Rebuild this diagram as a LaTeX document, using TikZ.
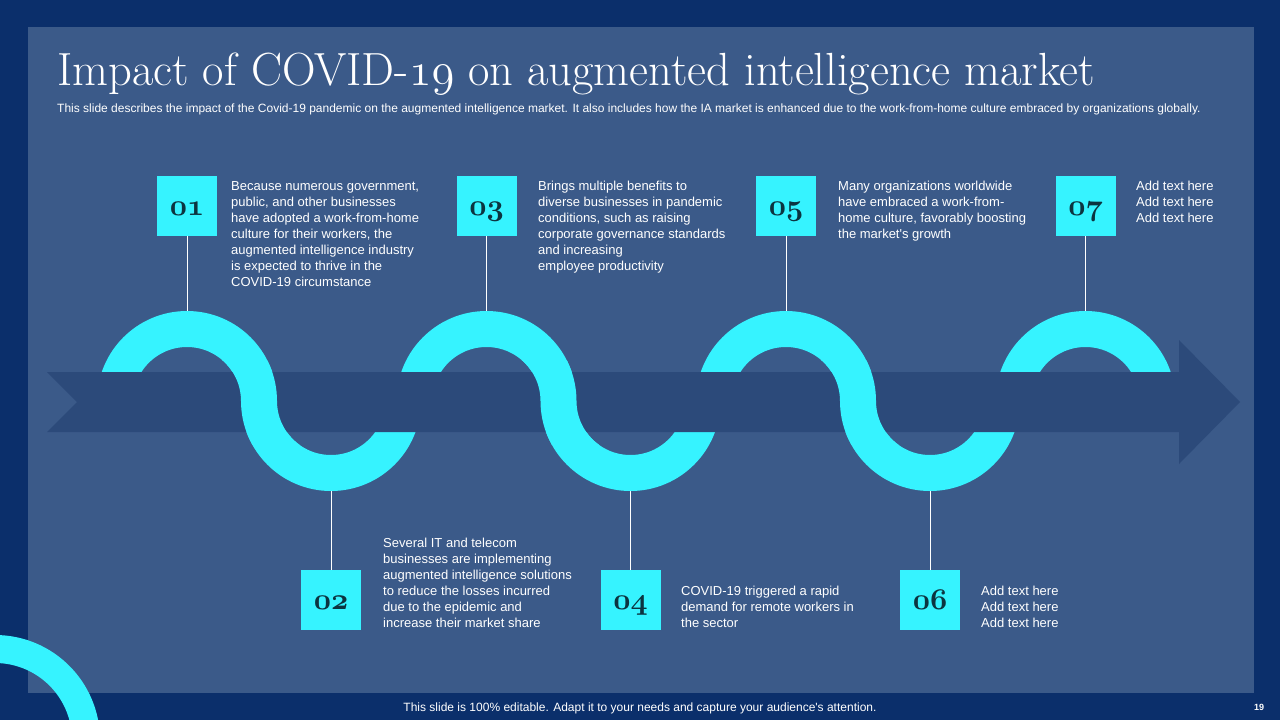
\documentclass[tikz,border=0pt]{standalone}
\usepackage{fix-cm}
\usepackage{fontspec}
\newfontfamily\arial{Liberation Sans}
\newcommand\osnum[1]{{\usefont{OML}{cmm}{m}{it}#1}}
\newcommand\osnumb[1]{{\usefont{OML}{cmm}{b}{it}#1}}
\definecolor{outerbg}{HTML}{0B2F6B}
\definecolor{panel}{HTML}{3B5A89}
\definecolor{bandcol}{HTML}{2C4A7A}
\definecolor{wavecol}{HTML}{36F3FF}
\definecolor{numtxt}{HTML}{0C3440}
\begin{document}
\begin{tikzpicture}[x=1pt,y=-1pt,
  wavestroke/.style={draw=wavecol,line width=36pt},
  numbox/.style={fill=wavecol,minimum size=60pt,inner sep=0pt,text height=20pt,text depth=2pt,text=numtxt,font=\fontsize{30}{30}\selectfont},
  body/.style={anchor=base west,align=left,inner sep=0pt,text=white,font=\arial\fontsize{13}{16}\selectfont},
  conn/.style={draw=white,line width=1pt}]
\useasboundingbox (0,0) rectangle (1280,720);
\fill[outerbg] (0,0) rectangle (1280,720);
\fill[panel] (28,27) rectangle (1254,693);
\begin{scope}
  \clip (0,0) rectangle (1280,720);
  \draw[draw=wavecol,line width=28pt] (-5,740) circle[radius=91];
\end{scope}

% title and subtitle
\node[anchor=base west,inner sep=0pt,text=white,font=\fontsize{46.5}{47}\selectfont] (title) at (57,85)
  {Impact of COVID-\osnum{19} on augmented intelligence market};
\node[anchor=base west,inner sep=0pt,text=white,font=\arial\fontsize{12}{14}\selectfont] (sub) at (57,112)
  {This slide describes the impact of the Covid-19 pandemic on the augmented intelligence market. It also includes how the IA market is enhanced due to the work-from-home culture embraced by organizations globally.};

% number boxes
\node[numbox] (n1) at (187,206) {\osnumb{01}};
\node[numbox] (n3) at (486.5,206) {\osnumb{03}};
\node[numbox] (n5) at (786,206) {\osnumb{05}};
\node[numbox] (n7) at (1085.5,206) {\osnumb{07}};
\node[numbox] (n2) at (331,600) {\osnumb{02}};
\node[numbox] (n4) at (630.5,600) {\osnumb{04}};
\node[numbox] (n6) at (930,600) {\osnumb{06}};

\coordinate (t1) at (187,311);
\coordinate (t3) at (486.5,311);
\coordinate (t5) at (786,311);
\coordinate (t7) at (1085.5,311);
\coordinate (t2) at (331,491);
\coordinate (t4) at (630.5,491);
\coordinate (t6) at (930,491);
\draw[conn] (n1) -- (t1);
\draw[conn] (n3) -- (t3);
\draw[conn] (n5) -- (t5);
\draw[conn] (n7) -- (t7);
\draw[conn] (n2) -- (t2);
\draw[conn] (n4) -- (t4);
\draw[conn] (n6) -- (t6);

% wave
\foreach \c in {187,486.5,786} {
  \draw[wavestroke] (\c-72,401) arc[start angle=180,end angle=360,radius=72]
                                arc[start angle=180,end angle=0,radius=72];
}
\draw[wavestroke] (1085.5-72,401) arc[start angle=180,end angle=360,radius=72];

% arrow band
\fill[bandcol] (47,372) -- (1179,372) -- (1179,340) -- (1240,402) -- (1179,464)
  -- (1179,432) -- (47,432) -- (77,402) -- cycle;

% wave crossing over band
\foreach \c in {187,486.5,786} {
  \begin{scope}
    \clip (\c+30,360) rectangle (\c+114,444);
    \draw[wavestroke] (\c-72,401) arc[start angle=180,end angle=360,radius=72]
                                  arc[start angle=180,end angle=0,radius=72];
  \end{scope}
}

% texts (anchor = baseline of the last line)
\node[body] (d1) at (231,286) {Because numerous government,\\public, and other businesses\\have adopted a work-from-home\\culture for their workers, the\\augmented intelligence industry\\is expected to thrive in the\\COVID-19 circumstance};
\node[body] (d3) at (538,270) {Brings multiple benefits to\\diverse businesses in pandemic\\conditions, such as raising\\corporate governance standards\\and increasing\\employee productivity};
\node[body] (d5) at (838,238) {Many organizations worldwide\\have embraced a work-from-\\home culture, favorably boosting\\the market's growth};
\node[body] (d7) at (1136,222) {Add text here\\Add text here\\Add text here};
\node[body] (d2) at (383,627) {Several IT and telecom\\businesses are implementing\\augmented intelligence solutions\\to reduce the losses incurred\\due to the epidemic and\\increase their market share};
\node[body] (d4) at (681,627) {COVID-19 triggered a rapid\\demand for remote workers in\\the sector};
\node[body] (d6) at (981,627) {Add text here\\Add text here\\Add text here};

% footer
\node[anchor=base,inner sep=0pt,text=white,font=\arial\fontsize{12}{14}\selectfont] (foot) at (640,711)
  {This slide is 100\% editable. Adapt it to your needs and capture your audience's attention.};
\node[anchor=base,inner sep=0pt,text=white,font=\arial\bfseries\fontsize{9}{10}\selectfont] (pg) at (1259,710) {19};
\end{tikzpicture}
\end{document}
